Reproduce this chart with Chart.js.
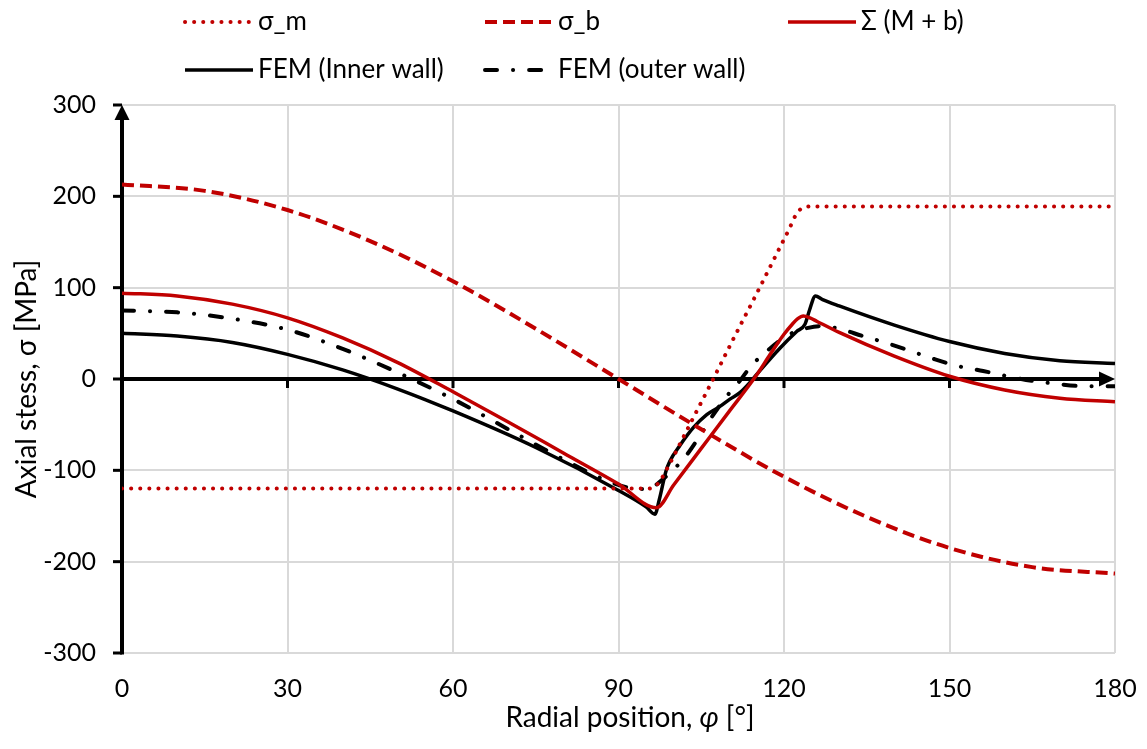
<!DOCTYPE html>
<html>
<head>
<meta charset="utf-8">
<script src="https://cdn.jsdelivr.net/npm/chart.js@4.4.1/dist/chart.umd.min.js"></script>
<style>
  html, body { margin: 0; padding: 0; background: #ffffff; }
  #wrap { width: 1147px; height: 749px; }
</style>
</head>
<body>
<div id="wrap"><canvas id="c" width="1147" height="749"></canvas></div>
<script>
// Axis ticks
const xTickValues = [0, 30, 60, 90, 120, 150, 180];
const yTickValues = [-300, -200, -100, 0, 100, 200, 300];

// Membrane stress σ_m
const phiM   = [0, 45, 90, 95.5, 96.5, 97.5, 99, 103, 107, 111, 115, 119, 121, 122, 123, 124, 125.5, 150, 180];
const sigmaM = [-120, -120, -120, -120, -118, -112, -96, -49, -2, 46, 93, 141, 165, 178, 186, 188.5, 189, 189, 189];

// Bending stress σ_b
const phiB   = [0, 15, 30, 45, 60, 75, 90, 105, 120, 135, 150, 165, 180];
const sigmaB = [213, 206, 185, 151, 107, 55, 0, -55, -107, -151, -185, -206, -213];

// Sum of membrane and bending
const phiSum   = [0, 10, 20, 30, 40, 50, 60, 70, 80, 90, 96.9, 100, 105, 110, 115, 117.5, 120, 121.5, 122.5, 123.5, 124.7, 126, 130, 140, 150, 160, 170, 180];
const sigmaSum = [94, 91, 82, 67, 45, 18, -14, -47, -81, -115, -141, -116, -76, -36, 4, 27, 49, 60, 66, 69, 67, 63, 51, 25, 3, -12, -21, -25];

// FEM, inner wall
const phiInner = [0, 10, 20, 30, 40, 50, 60, 75, 90, 95, 96.6, 97.4, 98.6, 99.3, 101.1, 103.6, 106, 108.4, 110.2, 112, 113.8, 115.6, 119.3, 122.3, 123.8, 124.6, 125.7, 127, 130, 140, 150, 160, 170, 180];
const feInner  = [50, 47, 40, 27, 10, -11, -35, -75, -122, -140, -148, -132, -101, -90, -73, -53, -39, -30, -22, -15, -4, 9, 34, 52, 60, 75, 91, 87, 80, 59, 41, 28, 20, 17];

// FEM, outer wall
const phiOuter = [0, 10, 20, 30, 40, 50, 60, 70, 80, 89, 93, 95.5, 97, 98, 100, 102, 104, 106, 108, 110, 112, 114, 117, 119, 121.7, 124.4, 127, 130, 134.3, 138.3, 142.8, 147.4, 151.6, 156.1, 160.5, 164.9, 169, 173.6, 180];
const feOuter  = [75, 73, 66, 54, 33, 7, -22, -55, -88, -114, -120, -120.5, -115, -110, -99, -86, -69, -50, -32, -16, -2, 14, 31, 41, 51, 56, 58, 55, 47, 40, 31, 21.5, 14, 8.8, 3, -2, -5, -7.7, -8];

const seriesLabels = ['σ_m', 'σ_b', 'Σ (M + b)', 'FEM (Inner wall)', 'FEM (outer wall)'];

const toPoints = (xs, ys) => xs.map((v, i) => ({ x: v, y: ys[i] }));

const RED = '#c00000';
const BLACK = '#000000';
const FONT = 'Lato';
const TICK_FS = 25;
const LEGEND_FS = 26;
const TITLE_FS = 28;

const datasets = [
  { label: seriesLabels[0], data: toPoints(phiM, sigmaM), borderColor: RED, borderWidth: 4,
    borderDash: [0.1, 9], borderCapStyle: 'round' },
  { label: seriesLabels[1], data: toPoints(phiB, sigmaB), borderColor: RED, borderWidth: 4,
    borderDash: [12, 6], borderCapStyle: 'butt' },
  { label: seriesLabels[2], data: toPoints(phiSum, sigmaSum), borderColor: RED, borderWidth: 3.5,
    borderDash: [], borderCapStyle: 'butt' },
  { label: seriesLabels[3], data: toPoints(phiInner, feInner), borderColor: BLACK, borderWidth: 3.5,
    borderDash: [], borderCapStyle: 'butt' },
  { label: seriesLabels[4], data: toPoints(phiOuter, feOuter), borderColor: BLACK, borderWidth: 4,
    borderDash: [12, 16, 0.1, 16], borderCapStyle: 'round' }
].map(d => Object.assign({
  pointRadius: 0, pointHoverRadius: 0, fill: false,
  cubicInterpolationMode: 'monotone', borderJoinStyle: 'round'
}, d));

// Axis lines with arrowheads, tick marks, axis titles and the legend
const decor = {
  id: 'decor',
  beforeDatasetsDraw(chart) {
    const { ctx, scales: { x, y } } = chart;
    const x0 = x.getPixelForValue(0), x1 = x.getPixelForValue(180);
    const y0 = y.getPixelForValue(0);
    const yTop = y.getPixelForValue(300), yBot = y.getPixelForValue(-300);
    ctx.save();
    ctx.strokeStyle = BLACK;
    ctx.fillStyle = BLACK;
    ctx.lineWidth = 4;
    ctx.beginPath(); ctx.moveTo(x0, yBot + 1.5); ctx.lineTo(x0, yTop + 12); ctx.stroke();
    ctx.beginPath(); ctx.moveTo(x0, yTop); ctx.lineTo(x0 - 7.5, yTop + 15); ctx.lineTo(x0 + 7.5, yTop + 15); ctx.closePath(); ctx.fill();
    ctx.beginPath(); ctx.moveTo(x0, y0); ctx.lineTo(x1 - 12, y0); ctx.stroke();
    ctx.beginPath(); ctx.moveTo(x1, y0); ctx.lineTo(x1 - 16, y0 - 7.5); ctx.lineTo(x1 - 16, y0 + 7.5); ctx.closePath(); ctx.fill();
    ctx.lineWidth = 3;
    yTickValues.forEach(v => {
      const py = y.getPixelForValue(v);
      ctx.beginPath(); ctx.moveTo(x0 - 9, py); ctx.lineTo(x0, py); ctx.stroke();
    });
    xTickValues.forEach(v => {
      if (v === 0 || v === 180) return;
      const px = x.getPixelForValue(v);
      ctx.beginPath(); ctx.moveTo(px, y0); ctx.lineTo(px, y0 + 9); ctx.stroke();
    });
    ctx.restore();
  },
  afterDraw(chart) {
    const { ctx, scales: { y } } = chart;
    ctx.save();
    ctx.fillStyle = BLACK;
    ctx.textBaseline = 'middle';

    // x axis title with italic φ
    const parts = [
      ['Radial position, ', 'normal ' + TITLE_FS + 'px ' + FONT],
      ['φ', 'italic ' + TITLE_FS + 'px ' + FONT],
      [' [°]', 'normal ' + TITLE_FS + 'px ' + FONT]
    ];
    let total = 0;
    parts.forEach(p => { ctx.font = p[1]; total += ctx.measureText(p[0]).width; });
    let tx = 630 - total / 2;
    ctx.textAlign = 'left';
    parts.forEach(p => { ctx.font = p[1]; ctx.fillText(p[0], tx, 718); tx += ctx.measureText(p[0]).width; });

    // y axis title
    ctx.save();
    ctx.translate(27, (y.top + y.bottom) / 2);
    ctx.rotate(-Math.PI / 2);
    ctx.textAlign = 'center';
    ctx.font = 'normal ' + TITLE_FS + 'px ' + FONT;
    ctx.fillText('Axial stess, σ [MPa]', 0, 0);
    ctx.restore();

    // legend
    const slots = [[185, 22], [485, 22], [788, 22], [185, 70], [485, 70]];
    const sampleLen = 68;
    chart.data.datasets.forEach((ds, i) => {
      const [lx, ly] = slots[i];
      ctx.save();
      ctx.strokeStyle = ds.borderColor;
      ctx.lineWidth = ds.borderWidth;
      ctx.lineCap = ds.borderCapStyle;
      ctx.setLineDash(ds.borderDash || []);
      ctx.beginPath(); ctx.moveTo(lx, ly); ctx.lineTo(lx + sampleLen, ly); ctx.stroke();
      ctx.restore();
      ctx.font = 'normal ' + LEGEND_FS + 'px ' + FONT;
      ctx.textAlign = 'left';
      ctx.fillText(ds.label, lx + sampleLen + 5, ly);
    });
    ctx.restore();
  }
};

new Chart(document.getElementById('c'), {
  type: 'line',
  data: { datasets },
  options: {
    responsive: false,
    animation: false,
    events: [],
    layout: { padding: { top: 105, right: 32, left: 0, bottom: 0 } },
    plugins: { legend: { display: false }, tooltip: { enabled: false } },
    scales: {
      x: {
        type: 'linear', min: 0, max: 180,
        afterBuildTicks: s => { s.ticks = xTickValues.map(v => ({ value: v })); },
        afterFit: s => { s.height = 96; s.paddingLeft = 0; s.paddingRight = 0; },
        grid: { color: '#d9d9d9', lineWidth: 2, drawTicks: false },
        border: { display: false },
        ticks: { color: BLACK, padding: 21, font: { family: FONT, size: TICK_FS }, maxRotation: 0 }
      },
      y: {
        type: 'linear', min: -300, max: 300,
        afterBuildTicks: s => { s.ticks = yTickValues.map(v => ({ value: v })); },
        afterFit: s => { s.width = 122; s.paddingTop = 0; s.paddingBottom = 0; },
        grid: { color: '#d9d9d9', lineWidth: 2, drawTicks: false },
        border: { display: false },
        ticks: { color: BLACK, padding: 26, font: { family: FONT, size: TICK_FS } }
      }
    }
  },
  plugins: [decor]
});
</script>
</body>
</html>
